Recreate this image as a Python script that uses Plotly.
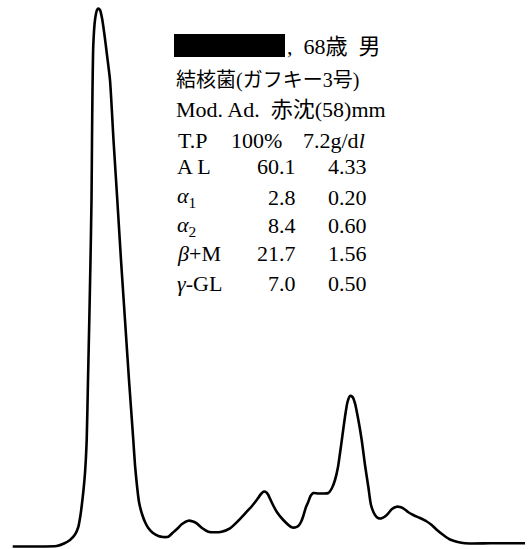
import plotly.graph_objects as go

# Densitometry trace (mobility position, absorbance)
mobility = [12.7, 35, 56.7, 64, 70, 75, 78.3, 80.5, 81.7, 83.5, 85, 86.7, 88, 89.3, 90.5, 91.5, 92, 92.5,
            93.3, 95, 97, 98.3, 100, 102, 104.5, 107, 110, 113.5, 117.3, 121, 125, 129, 133.3, 135, 136.7,
            139, 141.7, 145, 148.3, 153, 158.3, 163, 168.3, 172.5, 176.7, 182, 188.3, 193, 196.7, 202,
            208.3, 215, 221.7, 230, 238, 246.7, 252, 256.7, 261, 264, 266.5, 268.3, 272, 276.7, 283.3,
            291.7, 295, 298.3, 301, 303.3, 306, 308.3, 310.5, 313.3, 318, 323.3, 328.3, 332, 335, 338,
            340, 342.5, 345, 347.5, 350, 352.5, 355, 358, 361.7, 365, 368.3, 371, 375, 378, 381.7, 385,
            388.3, 392, 396.7, 400, 403.3, 408, 413.3, 420, 426, 431.7, 437, 443.3, 450, 456.7, 465, 490, 525]
trace_px = [546.5, 546.5, 546, 543.5, 540, 534.5, 527, 515, 506, 490, 473, 440, 380, 320, 260, 200, 140, 90,
            45, 20, 10, 8.5, 10, 18, 35, 55, 80, 140, 200, 260, 320, 380, 440, 465, 483,
            502, 513, 522, 528, 533, 536, 537, 536.7, 533, 529.3, 524, 520.7, 521.5, 523.3, 528,
            531.7, 532.3, 531.7, 528.3, 521, 511.7, 506, 500, 494, 491.5, 492.5, 495, 503, 511.7, 520,
            527.3, 527.5, 526, 522, 516, 507, 501.7, 496, 493, 493.5, 493.5, 493, 488, 480, 467,
            453.3, 435, 416.7, 402, 396, 397, 403.3, 418, 440, 465, 486.7, 505, 515, 518, 518.3, 516.5,
            513.3, 509, 506.7, 507, 508.3, 512, 515, 518, 521, 525, 530, 535, 539.5, 541.7, 543.3, 543.3, 543.3]
BASE = 547
absorbance = [BASE - v for v in trace_px]

# Text block
header_age = ",  68歳  男"
diagnosis = "結核菌(ガフキー3号)"
esr = "Mod. Ad.  赤沈(58)mm"
tp_label, tp_pct, tp_val = "T.P", "100%", "7.2g/d<i>l</i>"
fractions = ["A L", "<i>α</i><sub>1</sub>", "<i>α</i><sub>2</sub>", "<i>β</i>+M", "<i>γ</i>-GL"]
percents = ["60.1", "2.8", "8.4", "21.7", "7.0"]
grams = ["4.33", "0.20", "0.60", "1.56", "0.50"]

W, H = 529, 549
FONT = "Liberation Serif, Noto Sans CJK JP, serif"

fig = go.Figure()
fig.add_trace(go.Scatter(x=mobility, y=absorbance, mode="lines",
                         line=dict(color="black", width=2.6, shape="spline", smoothing=0.6),
                         hoverinfo="skip"))

ann = []
def txt(text, px, py, anchor="left", size=22):
    ann.append(dict(text=text, x=px / W, y=1 - py / H, xref="paper", yref="paper",
                    xanchor=anchor, yanchor="middle", showarrow=False,
                    font=dict(family=FONT, size=size, color="black")))

txt(header_age, 285, 47)
txt(diagnosis, 174, 80, size=20)
txt(esr, 174, 109)
txt(tp_label, 176, 140)
txt(tp_pct, 284, 140, anchor="right")
txt(tp_val, 301, 140)
rows_y = [167, 197, 226, 254, 283]
for lab, p, g, ry in zip(fractions, percents, grams, rows_y):
    txt(lab, 175, ry)
    txt(p, 298, ry, anchor="right")
    txt(g, 369, ry, anchor="right")

fig.update_layout(
    width=W, height=H,
    margin=dict(l=0, r=0, t=0, b=0),
    paper_bgcolor="white", plot_bgcolor="white",
    showlegend=False,
    xaxis=dict(range=[0, W], visible=False),
    yaxis=dict(range=[BASE - H, BASE], visible=False),
    annotations=ann,
    shapes=[dict(type="rect", xref="paper", yref="paper",
                 x0=174 / W, x1=285 / W, y0=1 - 57 / H, y1=1 - 34 / H,
                 fillcolor="black", line=dict(width=0))],
)
fig.write_html("out.html", config={"displayModeBar": False},
               post_script="document.body.style.margin='0';document.body.style.overflow='hidden';")
